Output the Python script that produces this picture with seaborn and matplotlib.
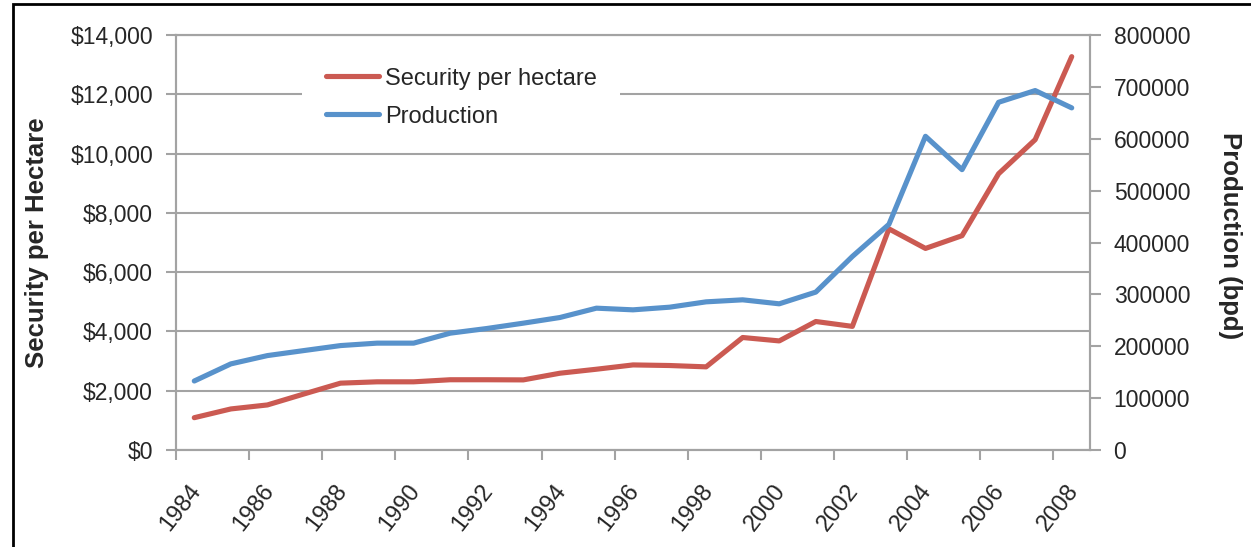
import numpy as np
import pandas as pd
import matplotlib
matplotlib.use("Agg")
import matplotlib.pyplot as plt
import matplotlib.transforms as mtransforms
from matplotlib.patches import Rectangle
from matplotlib.ticker import StrMethodFormatter, MultipleLocator
import seaborn as sns

# ---- data -------------------------------------------------------------
years = list(range(1984, 2009))
security_per_hectare = [1090, 1385, 1520, 1890, 2255, 2300, 2300, 2370, 2370, 2365,
                        2590, 2725, 2870, 2850, 2805, 3795, 3680, 4335, 4170, 7460,
                        6800, 7230, 9320, 10470, 13270]
production_bpd = [133000, 166000, 182000, 191700, 201300, 206000, 206000, 225200,
                  234200, 244500, 255400, 273400, 270200, 275300, 285600, 289500,
                  281800, 304400, 373100, 435000, 604700, 540400, 670300, 692900,
                  659500]
label_years = years[::2]

df = pd.DataFrame({"year": years,
                   "security": security_per_hectare,
                   "production": production_bpd})

# ---- style ------------------------------------------------------------
sns.set_style("white")
plt.rcParams["font.family"] = ["Liberation Sans", "DejaVu Sans"]

RED = "#CB5A52"
BLUE = "#5892CB"
GREY = "#A3A3A3"
LW = 3.7

W, H = 1251, 547
fig = plt.figure(figsize=(W / 100, H / 100), dpi=100)
L, R, T, B = 176, 1090, 35, 450
ax = fig.add_axes([L / W, 1 - B / H, (R - L) / W, (B - T) / H])
ax2 = ax.twinx()

sns.lineplot(data=df, x="year", y="security", ax=ax, color=RED, lw=LW,
             solid_capstyle="round", solid_joinstyle="round", legend=False,
             label="Security per hectare")
sns.lineplot(data=df, x="year", y="production", ax=ax2, color=BLUE, lw=LW,
             solid_capstyle="round", solid_joinstyle="round", legend=False,
             label="Production")

# ---- x axis: category-style, marks between years, labels every 2 years --
ax.set_xlim(1983.5, 2008.5)
ax.set_xticks(np.arange(1983.5, 2008, 2))
ax.set_xticklabels([])
ax.set_xticks(label_years, minor=True)
ax.set_xticklabels([str(y) for y in label_years], minor=True,
                   rotation=52, ha="right", va="top", fontsize=17)
ax.tick_params(axis="x", which="major", length=7, width=1.5, color=GREY,
               direction="out", bottom=True)
ax.tick_params(axis="x", which="minor", length=0, pad=22)
shift = mtransforms.ScaledTranslation(11 / 100, 0, fig.dpi_scale_trans)
for lab in ax.get_xticklabels(minor=True):
    lab.set_transform(lab.get_transform() + shift)

# ---- left y axis ------------------------------------------------------
ax.set_ylim(0, 14000)
ax.yaxis.set_major_locator(MultipleLocator(2000))
ax.yaxis.set_major_formatter(StrMethodFormatter("${x:,.0f}"))
ax.tick_params(axis="y", length=7, width=1.5, color=GREY, direction="out",
               left=True, pad=9.5, labelsize=16.5)
ax.grid(axis="y", color=GREY, lw=1.5)
ax.grid(axis="x", visible=False)
ax.set_axisbelow(True)
ax.set_ylabel("Security per Hectare", fontsize=18.5, fontweight="bold")
ax.yaxis.set_label_coords((49 - L) / (R - L), 0.5)
ax.set_xlabel("")

# ---- right y axis -----------------------------------------------------
ax2.set_ylim(0, 800000)
ax2.yaxis.set_major_locator(MultipleLocator(100000))
ax2.yaxis.set_major_formatter(StrMethodFormatter("{x:.0f}"))
ax2.tick_params(axis="y", length=8, width=1.5, color=GREY, direction="out",
                right=True, pad=9, labelsize=16.5)
ax2.set_ylabel("Production (bpd)", fontsize=18.5, fontweight="bold",
               rotation=270, va="center")
ax2.yaxis.set_label_coords((1230 - L) / (R - L), (B - 236) / (B - T))
ax2.grid(False)

for a in (ax, ax2):
    for side, sp in a.spines.items():
        sp.set_color(GREY)
        sp.set_linewidth(1.5)
ax.spines["top"].set_visible(True)
ax2.spines["top"].set_visible(True)

# ---- legend -----------------------------------------------------------
handles = [ax.lines[0], ax2.lines[0]]
leg = ax2.legend(handles, ["Security per hectare", "Production"],
                 loc="upper left",
                 bbox_to_anchor=(302 / W, 1 - 44 / H),
                 bbox_transform=fig.transFigure,
                 fontsize=17, frameon=True, facecolor="white",
                 edgecolor="none", framealpha=1, fancybox=False,
                 borderpad=1.0, handlelength=2.25, handletextpad=0.25,
                 labelspacing=0.68, borderaxespad=0)

# ---- outer frame ------------------------------------------------------
fig.patches.append(Rectangle((13 / W, -0.1), 1.2, 1.1 - 3.5 / H,
                             transform=fig.transFigure, fill=False,
                             ec="black", lw=2, clip_on=False))

fig.savefig("out.png", dpi=100)
